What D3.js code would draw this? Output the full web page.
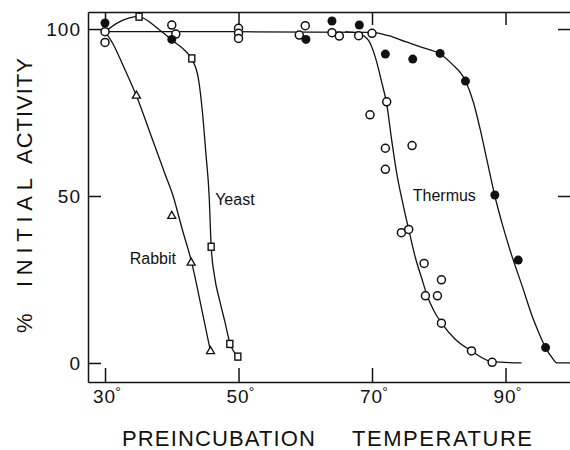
<!DOCTYPE html>
<html>
<head>
<meta charset="utf-8">
<script src="https://cdn.jsdelivr.net/npm/d3@7"></script>
<style>
  body { margin: 0; background: #fff; }
  text { font-family: "Liberation Sans", Arial, sans-serif; fill: #111; }
</style>
</head>
<body>
<div id="chart"></div>
<script>
// tick values
const xTicks = [30, 50, 70, 90];
const yTicks = [0, 50, 100];

// measured points [temperature, % activity]
const rabbitPts = [[34.7, 80], [40.0, 44], [42.9, 30], [45.8, 3.5]];
const yeastPts = [[35.1, 103.7], [43.0, 91.2], [45.9, 34.8], [48.7, 5.7], [49.9, 1.9]];
const openPts = [
  [30, 99.2], [30, 96], [40, 101.2], [40.6, 98.5], [50, 100.2], [50, 98.7], [50, 97.2],
  [59.1, 98.2], [60, 101], [64, 98.9], [65.1, 97.9], [68, 98], [70, 98.7],
  [72.2, 78.2], [69.7, 74.3], [72, 64.3], [76, 65.1], [72, 58], [74.4, 39], [75.5, 40],
  [77.8, 29.8], [80.4, 24.9], [78, 20.1], [79.8, 20.1], [80.4, 11.9], [84.9, 3.6], [88, 0.2]
];
const filledPts = [
  [30, 101.8], [40, 96.9], [60.1, 96.9], [64, 102.4], [68.1, 101.2], [72, 92.5],
  [76.1, 91], [80.2, 92.7], [84, 84.4], [88.4, 50.3], [91.9, 30.8], [96, 4.6]
];

// fitted curves drawn by hand in the original
const rabbitCurve = [[30, 99.2], [31.2, 95.5], [32.5, 90], [34.7, 80], [37, 67.5], [39, 56.5],
  [40.2, 50], [41.5, 40.5], [43, 30], [44.5, 16], [45.8, 3.5]];
const yeastCurve = [[30, 99.2], [32, 102], [35, 103.7], [38, 100], [40, 96.7], [42, 93.5],
  [43, 91], [44, 85], [44.6, 75], [45.1, 63], [45.6, 50], [45.9, 35], [46.4, 26],
  [47.2, 18.5], [48, 12], [48.7, 6], [49.9, 2]];
const openCurve = [[66, 99.2], [68, 98.6], [69.5, 96.5], [70.5, 91.5], [71.4, 84.5],
  [72.2, 77.5], [73.0, 66], [73.6, 58], [74.7, 47], [75.5, 40], [76.5, 31.5], [77.5, 25],
  [78.2, 20.5], [79.3, 15.5], [80.4, 12], [82.5, 7], [84.9, 3.6], [88, 0.4], [92.4, 0]];
const thermusCurve = [[30, 99.2], [50, 99.2], [70, 99], [72.5, 98], [75, 96.2], [77.5, 94.5],
  [80.2, 92.5], [82, 89.5], [84, 84.5], [85.2, 78], [86.2, 70], [87.3, 60], [88.4, 50],
  [89.6, 41], [90.8, 33], [92.5, 23], [94, 14], [95, 9], [96, 4.6], [97, 1.5], [97.7, 0],
  [99.8, 0]];

const labels = [
  { text: "Yeast", t: 46.5, v: 49 },
  { text: "Rabbit", t: 33.7, v: 31.5 },
  { text: "Thermus", t: 76.1, v: 50.3 }
];

let width = 570;
let height = 450;
let plotL = 88, plotR = 571, plotT = 12, plotB = 382;

let svg = d3.select("#chart").append("svg")
  .attr("width", width)
  .attr("height", height);

let x = d3.scaleLinear().domain([27.45, 99.81]).range([plotL, plotR]);
let y = d3.scaleLinear().domain([-5.7, 105.1]).range([plotB, plotT]);

// frame with inward ticks on all four sides
svg.append("g").attr("transform", `translate(0,${plotB})`)
  .call(d3.axisBottom(x).tickValues(xTicks).tickSize(-14).tickSizeOuter(0).tickFormat(""));
svg.append("g").attr("transform", `translate(0,${plotT})`)
  .call(d3.axisTop(x).tickValues(xTicks).tickSize(-13).tickSizeOuter(0).tickFormat(""));
svg.append("g").attr("transform", `translate(${plotL},0)`)
  .call(d3.axisLeft(y).tickValues(yTicks).tickSize(-13).tickSizeOuter(0).tickFormat(""));
svg.append("g").attr("transform", `translate(${plotR},0)`)
  .call(d3.axisRight(y).tickValues([50, 100]).tickSize(-13).tickSizeOuter(0).tickFormat(""));
svg.selectAll(".domain, .tick line").attr("stroke", "#111").attr("stroke-width", 1.5);

// tick labels (digits centred on the tick, degree sign raised after them)
xTicks.forEach((t) => {
  let lbl = svg.append("text").attr("x", x(t) - 12).attr("y", 403)
    .attr("font-size", 19).attr("letter-spacing", 1)
    .text(t);
  lbl.append("tspan").attr("font-size", 14).attr("dy", -6).attr("dx", -1).text("°");
});
yTicks.forEach((v) => {
  svg.append("text").attr("x", 81).attr("y", y(v)).attr("dy", "0.36em")
    .attr("text-anchor", "end").attr("font-size", 19).attr("letter-spacing", 1)
    .text(v);
});

// curves
let line = d3.line().x((d) => x(d[0])).y((d) => y(d[1])).curve(d3.curveMonotoneX);
[thermusCurve, openCurve, yeastCurve, rabbitCurve].forEach((c) => {
  svg.append("path").attr("d", line(c))
    .attr("fill", "none").attr("stroke", "#111").attr("stroke-width", 1.3);
});

// markers
svg.selectAll(".open").data(openPts).enter().append("circle")
  .attr("cx", (d) => x(d[0])).attr("cy", (d) => y(d[1])).attr("r", 4)
  .attr("fill", "#fff").attr("stroke", "#111").attr("stroke-width", 1.5);
svg.selectAll(".filled").data(filledPts).enter().append("circle")
  .attr("cx", (d) => x(d[0])).attr("cy", (d) => y(d[1])).attr("r", 4.5)
  .attr("fill", "#111");
svg.selectAll(".sq").data(yeastPts).enter().append("rect")
  .attr("x", (d) => x(d[0]) - 3).attr("y", (d) => y(d[1]) - 3.5)
  .attr("width", 6).attr("height", 7)
  .attr("fill", "#fff").attr("stroke", "#111").attr("stroke-width", 1.4);
let tri = d3.symbol().type(d3.symbolTriangle).size(28);
svg.selectAll(".tri").data(rabbitPts).enter().append("path")
  .attr("d", tri)
  .attr("transform", (d) => `translate(${x(d[0])},${y(d[1])})`)
  .attr("fill", "#fff").attr("stroke", "#111").attr("stroke-width", 1.3);

// series labels
labels.forEach((l) => {
  svg.append("text").attr("x", x(l.t)).attr("y", y(l.v) + 6)
    .attr("font-size", 16).text(l.text);
});

// axis titles
svg.append("text").attr("x", 122).attr("y", 446).attr("font-size", 22)
  .attr("textLength", 193).attr("lengthAdjust", "spacing").text("PREINCUBATION");
svg.append("text").attr("x", 352).attr("y", 446).attr("font-size", 22)
  .attr("textLength", 180).attr("lengthAdjust", "spacing").text("TEMPERATURE");

let yTitle = [
  { text: "%", from: 333, len: 18 },
  { text: "INITIAL", from: 287, len: 109 },
  { text: "ACTIVITY", from: 164, len: 106 }
];
yTitle.forEach((w) => {
  svg.append("text")
    .attr("transform", `translate(32,${w.from}) rotate(-90)`)
    .attr("font-size", 22)
    .attr("textLength", w.len).attr("lengthAdjust", "spacing")
    .text(w.text);
});
</script>
</body>
</html>
